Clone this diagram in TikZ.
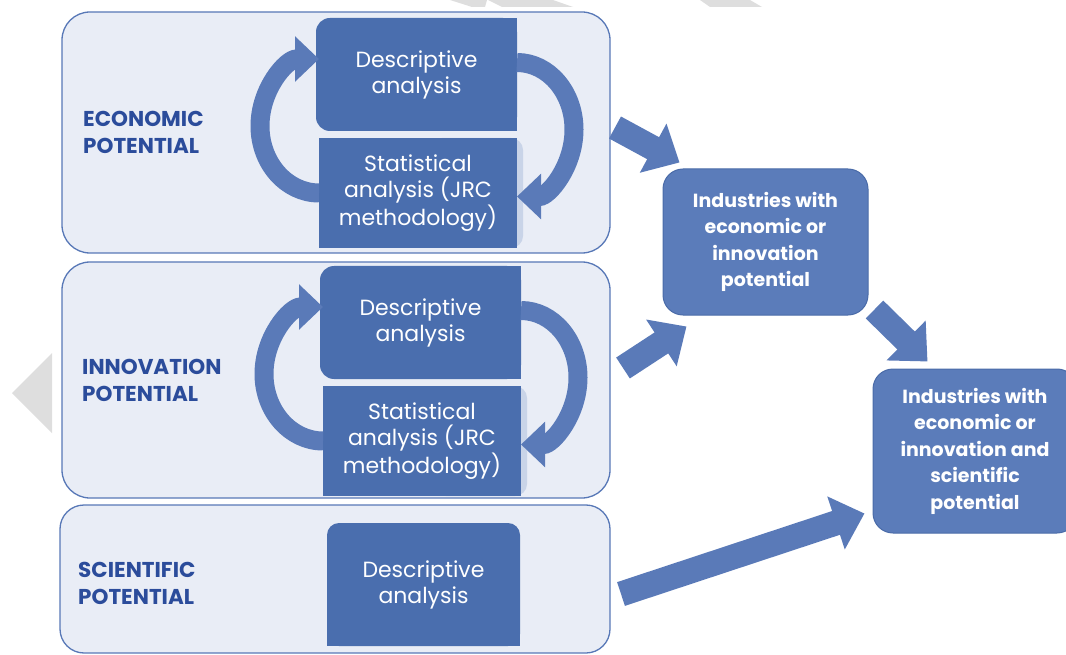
\documentclass[tikz,border=0pt]{standalone}
\usepackage{fontspec}
\setmainfont{Poppins}
\usetikzlibrary{arrows.meta,calc,positioning}

\definecolor{panelfill}{HTML}{E9EDF6}
\definecolor{panelline}{HTML}{5878B7}
\definecolor{boxblue}{HTML}{4A6EAE}
\definecolor{lightext}{HTML}{C9D4E8}
\definecolor{arrowblue}{HTML}{5A7AB8}
\definecolor{resultfill}{HTML}{5B7CBA}
\definecolor{resultline}{HTML}{4A6BA8}
\definecolor{labelblue}{HTML}{2B4C9B}
\definecolor{watermark}{HTML}{DEDEDE}

\tikzset{
  panel/.style={draw=panelline, fill=panelfill, line width=1.3pt, rounded corners=28pt, inner sep=0pt, outer sep=0pt},
  potlabel/.style={text=labelblue, font=\fontsize{21.5}{27}\selectfont\bfseries, align=left, inner sep=0pt, anchor=west},
  boxtext/.style={text=white, font=\fontsize{22}{26}\selectfont, align=center, inner sep=0pt, outer sep=0pt},
  resultbox/.style={fill=resultfill, draw=resultline, line width=1pt, rounded corners=20pt, text=white, font=\fontsize{19}{26.5}\selectfont\bfseries, align=center, inner sep=0pt},
  loop arrow/.style={draw=arrowblue, line width=19pt, -{Triangle[width=44pt,length=24pt]}},
  block arrow/.style={draw=arrowblue, line width=25pt, -{Triangle[width=54pt,length=30pt]}},
}

% descriptive + statistical boxes with the two curved arrows
\def\analysisloop[#1](#2,#3){%
  \begin{scope}[shift={(#2,#3)}]
    \fill[boxblue, rounded corners=14pt] (316,18) rectangle (517,131);
    \fill[boxblue] (420,18) rectangle (517,131);
    \fill[lightext, rounded corners=12pt] (430,138) rectangle (523,248);
    \fill[boxblue] (319,138) rectangle (517,248);
    \node[boxtext, minimum width=201pt, minimum height=113pt] (#1desc) at (416.5,74.5) {Descriptive\\analysis};
    \node[boxtext, minimum width=198pt, minimum height=110pt] (#1stat) at (418,193) {Statistical\\analysis (JRC\\methodology)};
    \draw[loop arrow] (#1stat.west) arc[start angle=90, end angle=270, x radius=59, y radius=67];
    \draw[loop arrow] ($(#1desc.east)+(0,-12)$) arc[start angle=-90, end angle=90, x radius=57, y radius=67];
  \end{scope}}

\begin{document}
\begin{tikzpicture}[x=1pt, y=-1pt]
  \useasboundingbox (0,0) rectangle (1066,655);

  % watermark pieces
  \fill[watermark] (12,393) -- (52,353) -- (52,433) -- cycle;
  \fill[watermark] (450,0) -- (487,0) -- (485,7) -- (472,7) -- cycle;
  \fill[watermark] (488,0) -- (553,0) -- (573,7) -- (502,7) -- cycle;
  \fill[watermark] (700,0) -- (750,0) -- (762,7) -- (710,7) -- cycle;

  % panels
  \node[panel, minimum width=548pt, minimum height=241pt] (eco) at (336,132.5) {};
  \node[panel, minimum width=548pt, minimum height=236pt] (inno) at (336,380) {};
  \node[panel, rounded corners=24pt, minimum width=550pt, minimum height=148pt] (sci) at (335,579) {};

  \node[potlabel, right=21pt of eco.west] (ecolabel) {ECONOMIC\\POTENTIAL};
  \node[potlabel, right=20pt of inno.west] (innolabel) {INNOVATION\\POTENTIAL};
  \node[potlabel, right=18pt of sci.west, yshift=-4pt] (scilabel) {SCIENTIFIC\\POTENTIAL};

  \analysisloop[eco](0,0)
  \analysisloop[inno](4,248)

  \fill[boxblue, rounded corners=12pt] (327,523) rectangle (520,646);
  \fill[boxblue] (327,560) rectangle (520,646);
  \node[boxtext, minimum width=193pt, minimum height=123pt] (scidesc) at (423.5,584.5) {Descriptive\\analysis};

  % results
  \node[resultbox, minimum width=205pt, minimum height=146pt] (indA) at (765.5,242) {Industries with\\economic or\\innovation\\potential};
  \node[resultbox, minimum width=204pt, minimum height=164pt] (indB) at (975,451) {Industries with\\economic or\\innovation and\\scientific\\potential};

  \draw[block arrow] ($(eco.east)+(5,-5)$) -- ($(indA.north west)+(17,-6)$);
  \draw[block arrow] ($(inno.east)+(13,-12)$) -- ($(indA.south west)+(24,11)$);
  \draw[block arrow] ($(indA.south east)+(6,-6)$) -- ($(indB.north west)+(55,-7)$);
  \draw[block arrow] ($(sci.east)+(11,15)$) -- ($(indB.south west)+(-8,-20)$);
\end{tikzpicture}
\end{document}
